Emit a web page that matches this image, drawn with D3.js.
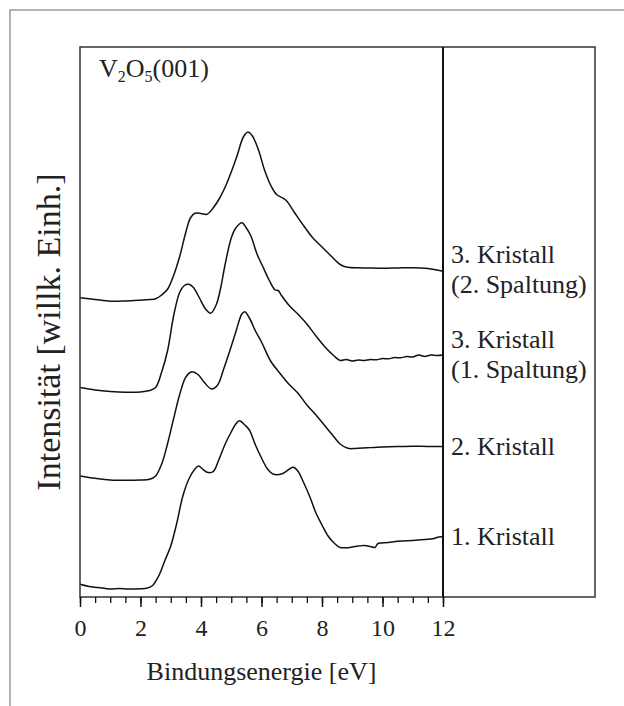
<!DOCTYPE html>
<html><head><meta charset="utf-8">
<script src="https://cdn.jsdelivr.net/npm/d3@7"></script>
<style>
body{margin:0;background:#fff}
svg{display:block}
text{font-family:"Liberation Serif","Times New Roman",serif;fill:#222}
</style>
</head><body>
<svg id="chart" width="624" height="706"></svg>
<script>
// ---- data (binding energy in eV, intensity in arbitrary units, curves already offset) ----
const majorTicks = [0, 2, 4, 6, 8, 10, 12];
const minorTicks = [0,0.5,1,1.5,2,2.5,3,3.5,4,4.5,5,5.5,6,6.5,7,7.5,8,8.5,9,9.5,10,10.5,11,11.5,12];

const seriesNames = ["3. Kristall|(2. Spaltung)", "3. Kristall|(1. Spaltung)", "2. Kristall", "1. Kristall"];

const spalt2E = [0,0.5,1,1.5,2,2.3,2.5,2.7,2.9,3.1,3.3,3.5,3.65,3.8,4,4.2,4.4,4.6,4.8,5,5.2,5.4,5.55,5.7,5.9,6.1,6.3,6.5,6.8,7.1,7.4,7.7,8,8.3,8.6,8.8,9.2,9.5,10,10.5,11,11.5,12];
const spalt2I = [299.3,297.5,295.8,296,296.8,297.4,298.2,302,308,322,341,365,379,383.7,383.5,382.7,389,398,410,425,442,460,465,461,447,427,412,402.5,397,384,371,359,350,341,332.5,330,329.2,329,328.7,329,329.3,328.5,325.8];

const spalt1E = [0,0.5,1,1.5,2,2.3,2.5,2.7,2.9,3.1,3.3,3.45,3.6,3.75,3.95,4.15,4.32,4.5,4.65,4.8,5,5.15,5.35,5.5,5.65,5.85,6.05,6.25,6.45,6.55,6.65,6.9,7.2,7.5,7.8,8.1,8.4,8.6,8.8,9,9.2,9.4,9.6,9.8,10,10.2,10.4,10.6,10.8,11,11.2,11.4,11.6,11.8,12];
const spalt1I = [209.5,207,205.5,204.7,205,206.5,209.5,225,247,282,305,311.5,312.7,309.5,299,288,283.7,292,309,333,359,369,374.3,369,361,343,330,317,307,306.5,302,292,283,273,261,250,241,236.5,237.5,236,237,236.5,237.5,237.2,238.5,238.2,239.5,239.2,240.5,240,242,240.5,242,241.5,242];

const kristall2E = [0,0.5,1,1.5,2,2.3,2.5,2.7,2.9,3.1,3.3,3.5,3.7,3.9,4.1,4.35,4.55,4.75,4.95,5.15,5.35,5.45,5.6,5.8,6,6.3,6.6,6.9,7.2,7.5,7.8,8.1,8.4,8.6,8.85,9.1,9.5,10,10.5,11,11.5,12];
const kristall2I = [121,118.7,117,116.7,117,117.7,121,133,154,179,203,220,225.2,222.5,215,208,212,228,246,265,283,285.3,279,266,255,236,224,213,204,192,182,171,160,153,148.7,148.5,149.2,150,150.5,150.8,150.5,150.5];

const kristall1E = [0,0.3,0.6,1,1.3,1.6,2,2.2,2.4,2.6,2.8,3,3.2,3.4,3.6,3.8,3.92,4.05,4.2,4.4,4.6,4.8,5,5.15,5.27,5.45,5.6,5.8,6,6.2,6.4,6.7,6.9,7.05,7.2,7.4,7.6,7.8,8,8.2,8.4,8.6,8.8,9,9.2,9.4,9.6,9.75,9.85,10.2,10.6,11,11.4,11.7,11.85,12];
const kristall1I = [12.7,10.5,9.5,8,8.5,8,8.2,8.7,11.5,21,36,51,74,101,118,128,131,128,124.7,125.3,138,153,165,173,176.3,172,167,152,139,128,122.7,123.5,127.5,129.7,126,114,100,84,72,61,54,49.5,49.3,50,51,51.5,50.5,49.5,53.5,54.5,56,56.5,57.5,58.5,60,60.3];

const seriesE = [spalt2E, spalt1E, kristall2E, kristall1E];
const seriesI = [spalt2I, spalt1I, kristall2I, kristall1I];

// ---- layout ----
const mLeft = 80, mTop = 47, mBottom = 597, boxRight = 595, xEnd = 443;

const svg = d3.select("#chart");

const x = d3.scaleLinear().domain([0, 12]).range([mLeft, xEnd]);
const y = d3.scaleLinear().domain([0, 550]).range([mBottom, mTop]);

// outer grey frame
svg.append("rect").attr("x", 10).attr("y", 10).attr("width", 700).attr("height", 800)
  .attr("fill", "none").attr("stroke", "#9a9a9a").attr("stroke-width", 1.5);

// curves
const line = d3.line().x(d => x(d[0])).y(d => y(d[1])).curve(d3.curveCatmullRom.alpha(0.5));
seriesE.forEach((E, k) => {
  const pts = E.map((e, i) => [e, seriesI[k][i]]);
  svg.append("path").datum(pts).attr("d", line)
    .attr("fill", "none").attr("stroke", "#111").attr("stroke-width", 1.5)
    .attr("stroke-linejoin", "round");
});

// box
svg.append("rect").attr("x", mLeft).attr("y", mTop).attr("width", boxRight - mLeft).attr("height", mBottom - mTop)
  .attr("fill", "none").attr("stroke", "#333").attr("stroke-width", 1.5);
svg.append("line").attr("x1", x(12)).attr("x2", x(12)).attr("y1", mTop).attr("y2", mBottom)
  .attr("stroke", "#111").attr("stroke-width", 2);

// axes
const gMinor = svg.append("g").attr("transform", `translate(0,${mBottom})`)
  .call(d3.axisBottom(x).tickValues(minorTicks).tickSize(6).tickFormat(""));
gMinor.select(".domain").remove();
gMinor.selectAll("line").attr("stroke", "#111").attr("stroke-width", 1.3);

const gMajor = svg.append("g").attr("transform", `translate(0,${mBottom})`)
  .call(d3.axisBottom(x).tickValues(majorTicks).tickSize(10).tickPadding(12).tickFormat(d3.format("d")));
gMajor.select(".domain").remove();
gMajor.selectAll("line").attr("stroke", "#111").attr("stroke-width", 1.5);
gMajor.selectAll("text").attr("font-size", 24).attr("font-family", "Liberation Serif, serif").attr("fill", "#222");

// axis titles
svg.append("text").attr("x", (x(0) + x(12)) / 2).attr("y", 680).attr("text-anchor", "middle")
  .attr("font-size", 26).text("Bindungsenergie [eV]");
svg.append("text").attr("transform", `translate(60,332) rotate(-90)`).attr("text-anchor", "middle")
  .attr("font-size", 34).text("Intensität [willk. Einh.]");

// sample label
const t = svg.append("text").attr("x", 99).attr("y", 77).attr("font-size", 26);
t.append("tspan").text("V");
t.append("tspan").attr("font-size", 16).attr("dy", 5).text("2");
t.append("tspan").attr("dy", -5).text("O");
t.append("tspan").attr("font-size", 16).attr("dy", 5).text("5");
t.append("tspan").attr("dy", -5).text("(001)");

// series labels
const labelBaselines = [[263, 293], [348, 378], [455], [545]];
seriesNames.forEach((name, k) => {
  name.split("|").forEach((ln, j) => {
    svg.append("text").attr("x", 451).attr("y", labelBaselines[k][j]).attr("font-size", 26).text(ln);
  });
});
</script>
</body></html>
